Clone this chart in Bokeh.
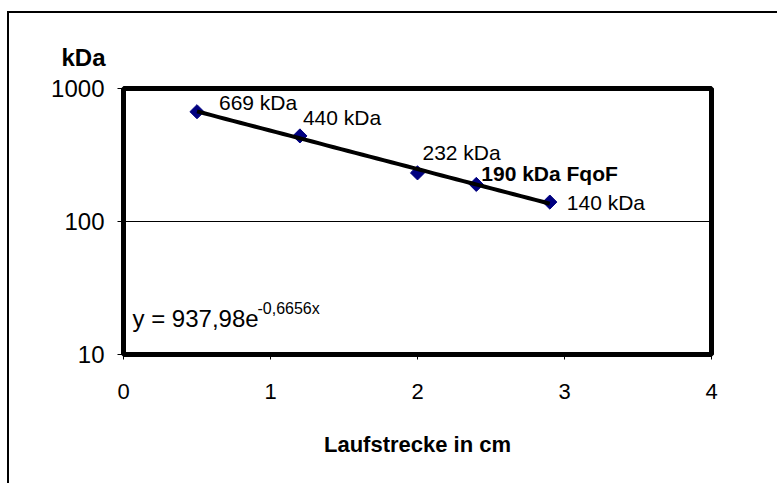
import numpy as np
from bokeh.plotting import figure
from bokeh.models import (Label, FixedTicker, NumeralTickFormatter, Range1d,
                          InlineStyleSheet)
from bokeh.embed import file_html
from bokeh.resources import INLINE

# ---- data ----
distance_cm = [0.5, 1.2, 2.0, 2.4, 2.9]
mass_kda = [669, 440, 232, 190, 140]
point_labels = ["669 kDa", "440 kDa", "232 kDa", "190 kDa FqoF", "140 kDa"]
point_label_bold = [False, False, False, True, False]
fit_a = 937.98
fit_b = -0.6656
equation_main = "y = 937,98e"
equation_exp = "-0,6656x"
x_ticks = [0, 1, 2, 3, 4]
y_ticks = [10, 100, 1000]
x_title = "Laufstrecke in cm"
y_title = "kDa"

FONT = "Liberation Sans"
FS = "21px"

p = figure(width=777, height=483, x_range=Range1d(0, 4), y_range=Range1d(10, 1000),
           y_axis_type="log", output_backend="svg", toolbar_location=None,
           min_border_left=123, min_border_right=66, min_border_top=88,
           min_border_bottom=129)
p.background_fill_color = "white"
p.border_fill_color = "white"
p.outline_line_color = "black"
p.outline_line_width = 5

# y-axis title placed top-left as in the reference
p.title.text = y_title
p.title.align = "left"
p.title.offset = -62
p.title.standoff = 35
p.title.text_font = FONT
p.title.text_font_size = "24px"
p.title.text_font_style = "bold"
p.title.text_color = "black"

# axes
p.xaxis.ticker = FixedTicker(ticks=x_ticks, minor_ticks=[])
p.yaxis.ticker = FixedTicker(ticks=y_ticks, minor_ticks=[])
p.yaxis.formatter = NumeralTickFormatter(format="0")
for ax in (p.xaxis[0], p.yaxis[0]):
    ax.axis_line_color = None
    ax.major_tick_line_color = "black"
    ax.major_tick_line_width = 1
    ax.major_tick_in = 0
    ax.minor_tick_line_color = None
    ax.major_label_text_font = FONT
    ax.major_label_text_color = "black"
p.xaxis.major_label_text_font_size = "22px"
p.yaxis.major_label_text_font_size = "24px"
p.xaxis.major_tick_out = 5
p.yaxis.major_tick_out = 6
p.xaxis.major_label_standoff = 24
p.yaxis.major_label_standoff = 13
p.xaxis.axis_label = x_title
p.xaxis.axis_label_text_font = FONT
p.xaxis.axis_label_text_font_size = "22px"
p.xaxis.axis_label_text_font_style = "bold"
p.xaxis.axis_label_text_color = "black"
p.xaxis.axis_label_standoff = 30

# grid
p.xgrid.grid_line_color = None
p.ygrid.ticker = FixedTicker(ticks=[100], minor_ticks=[])
p.ygrid.grid_line_color = "black"
p.ygrid.grid_line_width = 1
p.ygrid.minor_grid_line_color = None

# points (rotated squares = Excel diamonds)
p.scatter(distance_cm, mass_kda, marker="square", size=10, angle=np.pi / 4,
          fill_color="#000080", line_color="#000080")

# trendline from the fit coefficients
xs = np.linspace(min(distance_cm), max(distance_cm), 50)
p.line(xs, fit_a * np.exp(fit_b * xs), line_color="black", line_width=4)

# point labels
offsets = [(22, 9), (3, 18), (5, 20), (5, 11), (17, 0)]
for x, y, t, b, (dx, dy) in zip(distance_cm, mass_kda, point_labels, point_label_bold, offsets):
    p.add_layout(Label(x=x, y=y, x_offset=dx, y_offset=dy, text=t,
                       text_font=FONT, text_font_size=FS,
                       text_font_style="bold" if b else "normal",
                       text_align="left", text_baseline="middle", text_color="black"))

# equation
p.add_layout(Label(x=x_ticks[0], y=y_ticks[0], x_offset=9, y_offset=36, text=equation_main,
                   text_font=FONT, text_font_size="24px", text_align="left",
                   text_baseline="middle", text_color="black"))
p.add_layout(Label(x=x_ticks[0], y=y_ticks[0], x_offset=134, y_offset=46, text=equation_exp,
                   text_font=FONT, text_font_size="16px", text_align="left",
                   text_baseline="middle", text_color="black"))

# outer chart-area border (only its top and left edges fall inside the window)
p.stylesheets = [InlineStyleSheet(css="""
:host::after {
  content: "";
  position: absolute;
  left: 7px; top: 11px; right: 0; bottom: 0;
  border-left: 2px solid black;
  border-top: 2px solid black;
  pointer-events: none;
}
""")]

open("out.html", "w").write(file_html(p, INLINE))
